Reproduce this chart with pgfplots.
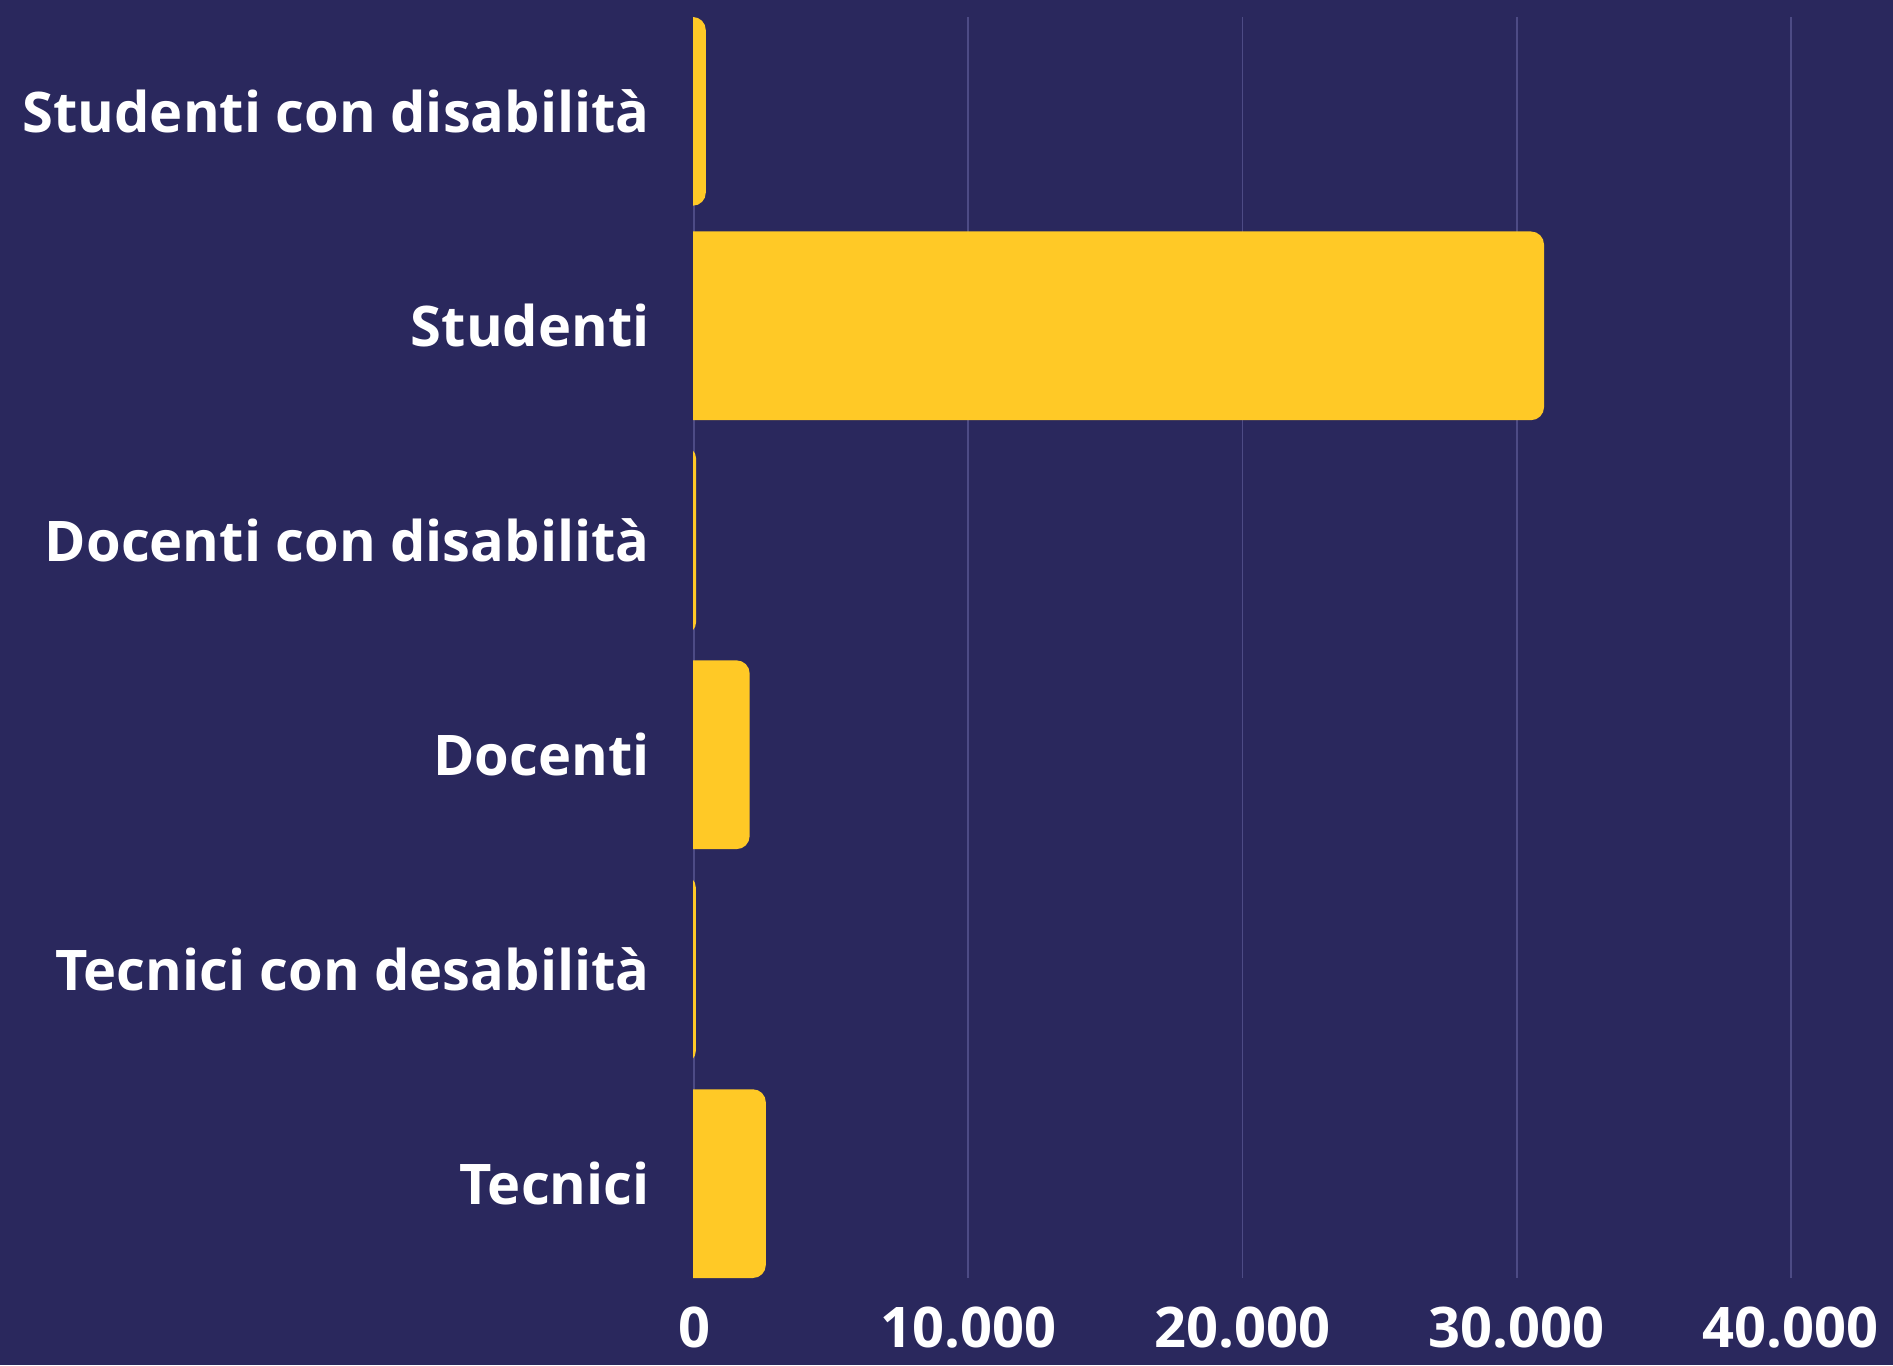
\documentclass[border=0pt]{standalone}
\usepackage{fontspec}
\setmainfont{Open Sans}
\usepackage{pgfplots}
\pgfplotsset{compat=1.18}
\definecolor{bg}{HTML}{2A285D}
\definecolor{barc}{HTML}{FFC926}
\definecolor{gridc}{HTML}{4D4B85}
\begin{document}
\begin{tikzpicture}
\useasboundingbox (-347pt,-43.5pt) rectangle (599.5pt,639pt);
\fill[bg] (-347pt,-43.5pt) rectangle (599.5pt,639pt);
\begin{axis}[
  at={(-20.565pt,0pt)}, anchor=south west,
  scale only axis, width=568.965pt, height=630.5pt,
  xmin=0, xmax=41500,
  ymin=-0.44, ymax=5.44, y dir=reverse,
  x filter/.expression={x+1500},
  xbar, bar width=0.88,
  axis line style={draw=none},
  major tick length=0pt,
  xtick={1500,11500,21500,31500,41500},
  xticklabels={0,10.000,20.000,30.000,40.000},
  ytick={0,1,2,3,4,5},
  yticklabels={Studenti con disabilità,Studenti,Docenti con disabilità,Docenti,Tecnici con desabilità,Tecnici},
  yticklabel style={font=\bfseries\fontsize{28}{34}\selectfont, color=white, anchor=east, inner sep=0pt, xshift=-1.435pt},
  xticklabel style={font=\bfseries\fontsize{28}{34}\selectfont, color=white, anchor=north, inner sep=0pt, yshift=-14pt},
  xmajorgrids, ymajorgrids=false,
  grid style={gridc, line width=0.9pt},
]
\addplot[fill=barc, draw=none, rounded corners=6.5pt] coordinates {
  (430,0) (31000,1) (80,2) (2030,3) (70,4) (2620,5)
};
\end{axis}
\fill[bg] (-21pt,-1pt) rectangle (-0.45pt,632pt);
\end{tikzpicture}
\end{document}
